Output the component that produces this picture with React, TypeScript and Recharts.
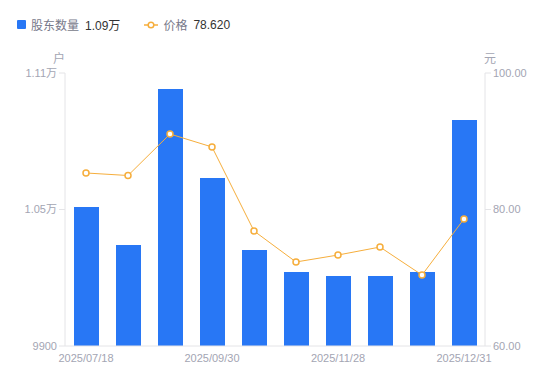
import React from "react";
import { ComposedChart, Bar, Line, XAxis, YAxis } from "recharts";

const dates = [
    "2025/07/18", "2025/08/08", "2025/08/29", "2025/09/30", "2025/10/20",
    "2025/10/31", "2025/11/28", "2025/12/10", "2025/12/19", "2025/12/31",
];
const holders = [10511, 10344, 11030, 10638, 10322, 10225, 10208, 10208, 10225, 10893];
const prices = [85.35, 84.98, 91.06, 89.16, 76.85, 72.31, 73.33, 74.5, 70.4, 78.62];
const holderTicks = [9900, 10500, 11100];
const priceTicks = [60, 80, 100];

const BLUE = "#2877f5";
const ORANGE = "#f6ae3c";
const GRID = "#e4e4e7";
const MUTED = "#a3a5b3";
const FONT = '"Liberation Sans", Arial, "Noto Sans CJK SC", sans-serif';

const data = dates.map((d, i) => ({ date: d, holders: holders[i], price: prices[i] }));

const fmtHolders = (v: number) => (v >= 10000 ? `${(v / 10000).toFixed(2)}万` : String(v));

export default function App() {
    const tick = { fontSize: 11, fill: MUTED, fontFamily: FONT };
    return (
        <div style={{ position: "absolute", left: 0, top: 0, width: 550, height: 381, fontFamily: FONT }}>
            {/* legend */}
            <div style={{ position: "absolute", left: 17, top: 16, display: "flex", alignItems: "center", fontSize: 12 }}>
                <span style={{ width: 9, height: 9, background: BLUE, borderRadius: 1, marginRight: 5 }} />
                <span style={{ color: "#77798a", marginRight: 6 }}>股东数量</span>
                <span style={{ color: "#333" }}>1.09万</span>
                <svg width="14" height="10" style={{ marginLeft: 24, marginRight: 5 }}>
                    <line x1="0" y1="5" x2="14" y2="5" stroke={ORANGE} strokeWidth="1.5" />
                    <circle cx="7" cy="5" r="2.8" fill="#fff" stroke={ORANGE} strokeWidth="1.5" />
                </svg>
                <span style={{ color: "#77798a", marginRight: 6 }}>价格</span>
                <span style={{ color: "#333" }}>78.620</span>
            </div>
            <div style={{ position: "absolute", left: 53, top: 49, fontSize: 12, color: MUTED }}>户</div>
            <div style={{ position: "absolute", left: 484, top: 49, fontSize: 12, color: MUTED }}>元</div>

            <ComposedChart width={550} height={381} data={data} margin={{ top: 73, right: 0, bottom: 15, left: 0 }}>
                <XAxis
                    dataKey="date"
                    interval={2}
                    tickLine={false}
                    axisLine={{ stroke: GRID }}
                    tick={tick}
                    height={20}
                />
                <YAxis
                    yAxisId="left"
                    width={65}
                    domain={[9900, 11100]}
                    ticks={holderTicks}
                    tickFormatter={fmtHolders}
                    axisLine={{ stroke: GRID }}
                    tickLine={{ stroke: GRID }}
                    tick={tick}
                />
                <YAxis
                    yAxisId="right"
                    orientation="right"
                    width={65}
                    domain={[60, 100]}
                    ticks={priceTicks}
                    tickFormatter={(v: number) => v.toFixed(2)}
                    axisLine={{ stroke: GRID }}
                    tickLine={{ stroke: GRID }}
                    tick={tick}
                />
                <Bar yAxisId="left" dataKey="holders" fill={BLUE} barSize={25} isAnimationActive={false} />
                <Line
                    yAxisId="right"
                    dataKey="price"
                    type="linear"
                    stroke={ORANGE}
                    strokeWidth={1}
                    dot={{ r: 3, fill: "#fff", stroke: ORANGE, strokeWidth: 1.5 }}
                    isAnimationActive={false}
                />
            </ComposedChart>
        </div>
    );
}
